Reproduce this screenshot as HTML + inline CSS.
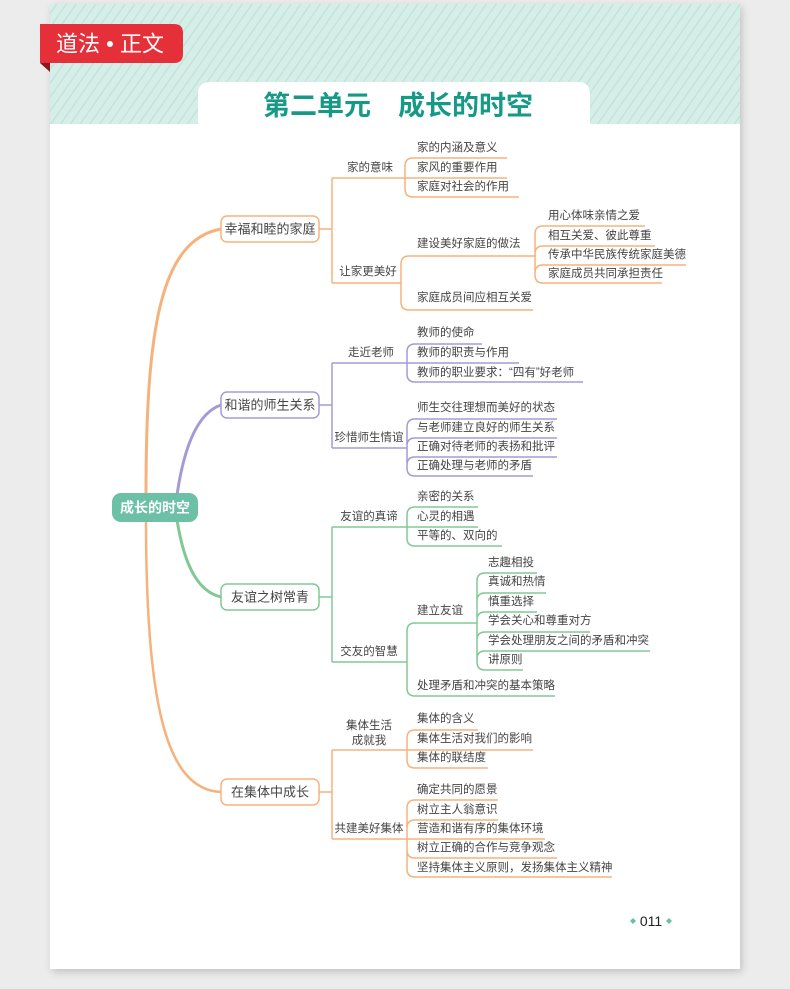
<!DOCTYPE html>
<html><head><meta charset="utf-8"><style>
html,body{margin:0;padding:0;background:#ececec;width:790px;height:989px;overflow:hidden}
svg{display:block}
text{font-family:"Liberation Sans","Noto Sans CJK SC",sans-serif;}
.t{font-size:11.5px;fill:#444;dominant-baseline:central}
.s{font-size:11.5px;fill:#444;dominant-baseline:central;text-anchor:middle}
.b{font-size:13px;fill:#444;dominant-baseline:central;text-anchor:middle}
.o{stroke:#f6b27c;fill:none;stroke-width:1.5}
.p{stroke:#a59ad6;fill:none;stroke-width:1.5}
.g{stroke:#82c895;fill:none;stroke-width:1.5}
</style></head><body>
<svg width="790" height="989" viewBox="0 0 790 989" xmlns="http://www.w3.org/2000/svg">
<defs>
<pattern id="st" width="8" height="8" patternUnits="userSpaceOnUse" patternTransform="rotate(35)">
<rect width="8" height="8" fill="#d6eee8"/><rect width="1.5" height="8" fill="#c4e3db"/>
</pattern>
<filter id="sh" x="-5%" y="-5%" width="110%" height="110%"><feDropShadow dx="2" dy="3" stdDeviation="4" flood-color="#000" flood-opacity="0.18"/></filter>
</defs>
<rect x="50" y="4" width="690" height="965" fill="#fff" filter="url(#sh)"/>
<rect x="50" y="4" width="690" height="120" fill="url(#st)"/>
<path d="M198,124 L198,94 Q198,82 210,82 L578,82 Q590,82 590,94 L590,124 Z" fill="#fff"/>
<text x="398" y="106" style="font-size:27px;font-weight:bold;fill:#169a87;dominant-baseline:central;text-anchor:middle">第二单元　成长的时空</text>
<path d="M40,63 L50,63 L50,72 Z" fill="#8a1a1f"/>
<path d="M40,24 L174,24 Q183,24 183,33 L183,54 Q183,63 174,63 L40,63 Z" fill="#e5303a"/>
<text x="110" y="44" style="font-size:22px;fill:#fff;dominant-baseline:central;text-anchor:middle">道法 • 正文</text>

<path d="M146,495 C146,330 160,240 221,229" stroke="#f6b27c" stroke-width="3" fill="none"/>
<path d="M146,520 C146,700 165,790 221,792" stroke="#f6b27c" stroke-width="2.5" fill="none"/>
<path d="M177,495 C185,440 200,412 221,405" stroke="#a59ad6" stroke-width="3" fill="none"/>
<path d="M177,520 C185,570 200,592 221,597" stroke="#82c895" stroke-width="3" fill="none"/>
<rect x="112" y="493" width="86" height="29" rx="9" fill="#6cc0a6"/>
<text x="155" y="507.5" style="font-size:14px;font-weight:bold;fill:#fff;dominant-baseline:central;text-anchor:middle">成长的时空</text>

<rect x="221" y="216" width="98" height="26" rx="6" fill="#fff" class="o"/>
<text x="270" y="229" class="b">幸福和睦的家庭</text>
<path class="o" d="M319,229 L332,229 M332,178 L332,283"/>
<path class="o" d="M405,166 Q405,158 413,158 L507,158 M332,178 L507,178 M405,189 Q405,197 413,197 L519,197 M405,166 L405,189"/>
<text x="370" y="168" class="s">家的意味</text>
<text x="417" y="148" class="t">家的内涵及意义</text>
<text x="417" y="168" class="t">家风的重要作用</text>
<text x="417" y="187" class="t">家庭对社会的作用</text>
<path class="o" d="M401,264 Q401,256 409,256 L536,256 M401,302 Q401,310 409,310 L533,310 M401,264 L401,302 M332,283 L401,283"/>
<text x="368" y="272" class="s">让家更美好</text>
<text x="417" y="244" class="t">建设美好家庭的做法</text>
<text x="417" y="298" class="t">家庭成员间应相互关爱</text>
<path class="o" d="M535,234 Q535,226 543,226 L645,226 M535,254 Q535,246 543,246 L655,246 M535,273 Q535,265 543,265 L686,265 M535,275 Q535,283 543,283 L662,283 M535,234 L535,275"/>
<text x="548" y="216" class="t">用心体味亲情之爱</text>
<text x="548" y="236" class="t">相互关爱、彼此尊重</text>
<text x="548" y="255" class="t">传承中华民族传统家庭美德</text>
<text x="548" y="274" class="t">家庭成员共同承担责任</text>

<rect x="221" y="392" width="98" height="26" rx="6" fill="#fff" class="p"/>
<text x="270" y="405" class="b">和谐的师生关系</text>
<path class="p" d="M319,405 L332,405 M332,363 L332,448"/>
<path class="p" d="M407,352 Q407,344 415,344 L482,344 M332,363 L519,363 M407,374 Q407,382 415,382 L583,382 M407,352 L407,374"/>
<text x="371" y="353" class="s">走近老师</text>
<text x="417" y="333" class="t">教师的使命</text>
<text x="417" y="353" class="t">教师的职责与作用</text>
<text x="417" y="373" class="t">教师的职业要求：“四有”好老师</text>
<path class="p" d="M407,427 Q407,419 415,419 L557,419 M407,446 Q407,438 415,438 L557,438 M407,465 Q407,457 415,457 L557,457 M407,468 Q407,476 415,476 L533,476 M407,427 L407,468 M332,448 L407,448"/>
<text x="369" y="438" class="s">珍惜师生情谊</text>
<text x="417" y="408" class="t">师生交往理想而美好的状态</text>
<text x="417" y="428" class="t">与老师建立良好的师生关系</text>
<text x="417" y="447" class="t">正确对待老师的表扬和批评</text>
<text x="417" y="466" class="t">正确处理与老师的矛盾</text>

<rect x="221" y="584" width="98" height="26" rx="6" fill="#fff" class="g"/>
<text x="270" y="597" class="b">友谊之树常青</text>
<path class="g" d="M319,597 L332,597 M332,527 L332,662"/>
<path class="g" d="M407,515 Q407,507 415,507 L478,507 M332,527 L478,527 M407,538 Q407,546 415,546 L502,546 M407,515 L407,538"/>
<text x="369" y="517" class="s">友谊的真谛</text>
<text x="417" y="497" class="t">亲密的关系</text>
<text x="417" y="517" class="t">心灵的相遇</text>
<text x="417" y="536" class="t">平等的、双向的</text>
<path class="g" d="M407,631 Q407,623 415,623 L477,623 M407,688 Q407,696 415,696 L555,696 M407,631 L407,688 M332,662 L407,662"/>
<text x="369" y="652" class="s">交友的智慧</text>
<text x="417" y="611" class="t">建立友谊</text>
<text x="417" y="686" class="t">处理矛盾和冲突的基本策略</text>
<path class="g" d="M477,581 Q477,573 485,573 L537,573 M477,601 Q477,593 485,593 L546,593 M477,620 Q477,612 485,612 L537,612 M477,640 Q477,632 485,632 L590,632 M477,659 Q477,651 485,651 L650,651 M477,662 Q477,670 485,670 L523,670 M477,581 L477,662"/>
<text x="488" y="563" class="t">志趣相投</text>
<text x="488" y="582" class="t">真诚和热情</text>
<text x="488" y="602" class="t">慎重选择</text>
<text x="488" y="621" class="t">学会关心和尊重对方</text>
<text x="488" y="641" class="t">学会处理朋友之间的矛盾和冲突</text>
<text x="488" y="660" class="t">讲原则</text>

<rect x="221" y="779" width="98" height="26" rx="6" fill="#fff" class="o"/>
<text x="270" y="792" class="b">在集体中成长</text>
<path class="o" d="M319,792 L332,792 M332,750 L332,839"/>
<path class="o" d="M407,738 Q407,730 415,730 L478,730 M332,750 L533,750 M407,760 Q407,768 415,768 L488,768 M407,738 L407,760"/>
<text x="369" y="726" class="s">集体生活</text>
<text x="369" y="741" class="s">成就我</text>
<text x="417" y="719" class="t">集体的含义</text>
<text x="417" y="739" class="t">集体生活对我们的影响</text>
<text x="417" y="758" class="t">集体的联结度</text>
<path class="o" d="M407,808 Q407,800 415,800 L498,800 M407,828 Q407,820 415,820 L498,820 M332,839 L545,839 M407,850 Q407,858 415,858 L557,858 M407,869 Q407,877 415,877 L612,877 M407,808 L407,869"/>
<text x="369" y="829" class="s">共建美好集体</text>
<text x="417" y="790" class="t">确定共同的愿景</text>
<text x="417" y="810" class="t">树立主人翁意识</text>
<text x="417" y="829" class="t">营造和谐有序的集体环境</text>
<text x="417" y="848" class="t">树立正确的合作与竞争观念</text>
<text x="417" y="868" class="t">坚持集体主义原则，发扬集体主义精神</text>

<path d="M633,918 L636,921 L633,924 L630,921 Z" fill="#6cc0a6"/>
<text x="651" y="921" style="font-size:14px;fill:#222;dominant-baseline:central;text-anchor:middle">011</text>
<path d="M669,918 L672,921 L669,924 L666,921 Z" fill="#6cc0a6"/>
</svg>
</body></html>
